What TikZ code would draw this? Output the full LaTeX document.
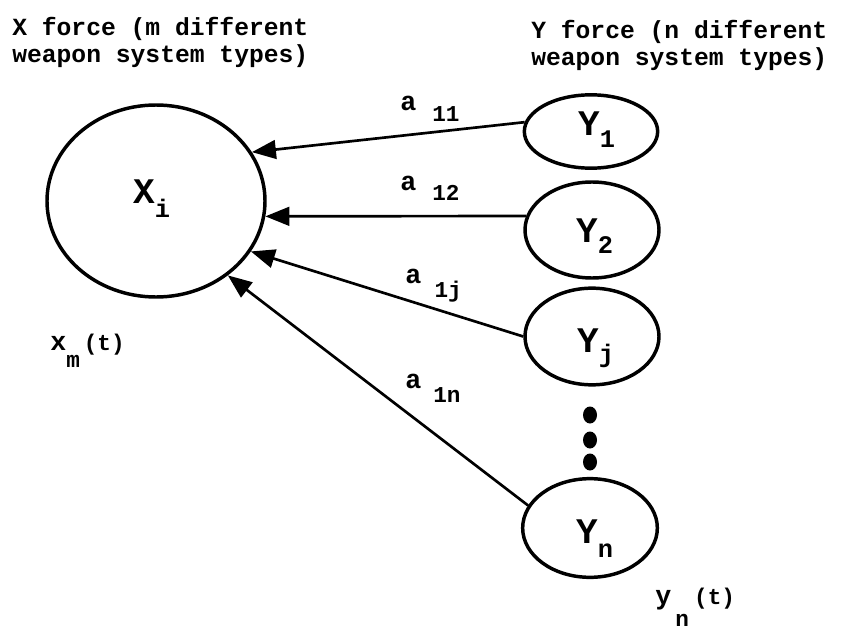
\documentclass[tikz,border=0pt]{standalone}
\usepackage{fontspec}
\setmainfont{Liberation Mono}
\usetikzlibrary{shapes.geometric,arrows.meta}
\newcommand{\ndfont}{\fontsize{27}{27}\selectfont\bfseries}
\newcommand{\sbfont}{\fontsize{19}{19}\selectfont\bfseries}
\newcommand{\lbfont}{\fontsize{20}{20}\selectfont\bfseries}
\newcommand{\lsfont}{\fontsize{17}{17}\selectfont\bfseries}
\begin{document}
\begin{tikzpicture}[x=0.75pt,y=-0.75pt,
  bubble/.style={draw,ellipse,line width=2.6pt,inner sep=0pt},
  link/.style={line width=2pt,-{Triangle[length=18pt,width=14pt]}},
  title/.style={align=left,anchor=north west,inner sep=0pt,
    font=\fontsize{18.5}{20}\selectfont\bfseries},
  lab/.style={inner sep=0pt,anchor=base west}]
\useasboundingbox (0,0) rectangle (850,635);
% titles
\node[title] (tx) at (12,17) {X force (m different\\weapon system types)};
\node[title] (ty) at (531,20) {Y force (n different\\weapon system types)};
% X circle
\node[bubble,minimum width=163.5pt,minimum height=144pt] (X) at (156,201) {};
\node[lab] (Xl) at (133,203) {\ndfont X\raisebox{-10.5pt}{\sbfont i}};
% Y ellipses
\node[bubble,minimum width=100pt,minimum height=55pt] (Y1) at (591,131.5) {};
\node[lab] (Y1l) at (578,136) {\ndfont Y\raisebox{-9pt}{\sbfont 1}};
\node[bubble,minimum width=100.5pt,minimum height=72pt] (Y2) at (592,230) {};
\node[lab] (Y2l) at (576,242) {\ndfont Y\raisebox{-8.25pt}{\sbfont 2}};
\node[bubble,minimum width=100.5pt,minimum height=72.5pt] (Yj) at (592,336.5) {};
\node[lab] (Yjl) at (577,352) {\ndfont Y\raisebox{-7.5pt}{\sbfont j}};
\node[bubble,minimum width=101pt,minimum height=74pt] (Yn) at (590,528) {};
\node[lab] (Ynl) at (576,543) {\ndfont Y\raisebox{-10.5pt}{\sbfont n}};
% dots
\fill (590,415) ellipse [x radius=7, y radius=8.5];
\fill (590,440) ellipse [x radius=7, y radius=8.5];
\fill (590,462) ellipse [x radius=7, y radius=8.5];
% connectors
\draw[link] (Y1.172) -- (X.27);
\draw[link] (Y2.168) -- (X.-8);
\draw[link] (Yj.180) -- (X.-28);
\draw[link] (Yn.160) -- (X.-46);
% connector labels
\node[lab] (a11) at (400,110) {\lbfont a\kern12pt\raisebox{-9pt}{\lsfont 11}};
\node[lab] (a12) at (400,190) {\lbfont a\kern12pt\raisebox{-7.5pt}{\lsfont 12}};
\node[lab] (a1j) at (405,283) {\lbfont a\kern10pt\raisebox{-11pt}{\lsfont 1j}};
\node[lab] (a1n) at (405,388) {\lbfont a\kern9pt\raisebox{-10.5pt}{\lsfont 1n}};
% state labels
\node[lab] (xm) at (50,350) {\lbfont x\raisebox{-12.75pt}{\lsfont m}\kern3pt{\lsfont (t)}};
\node[lab] (yn) at (655,604) {\lbfont y\kern3pt\raisebox{-17pt}{\lsfont n}\kern4pt{\lsfont (t)}};
\end{tikzpicture}
\end{document}
